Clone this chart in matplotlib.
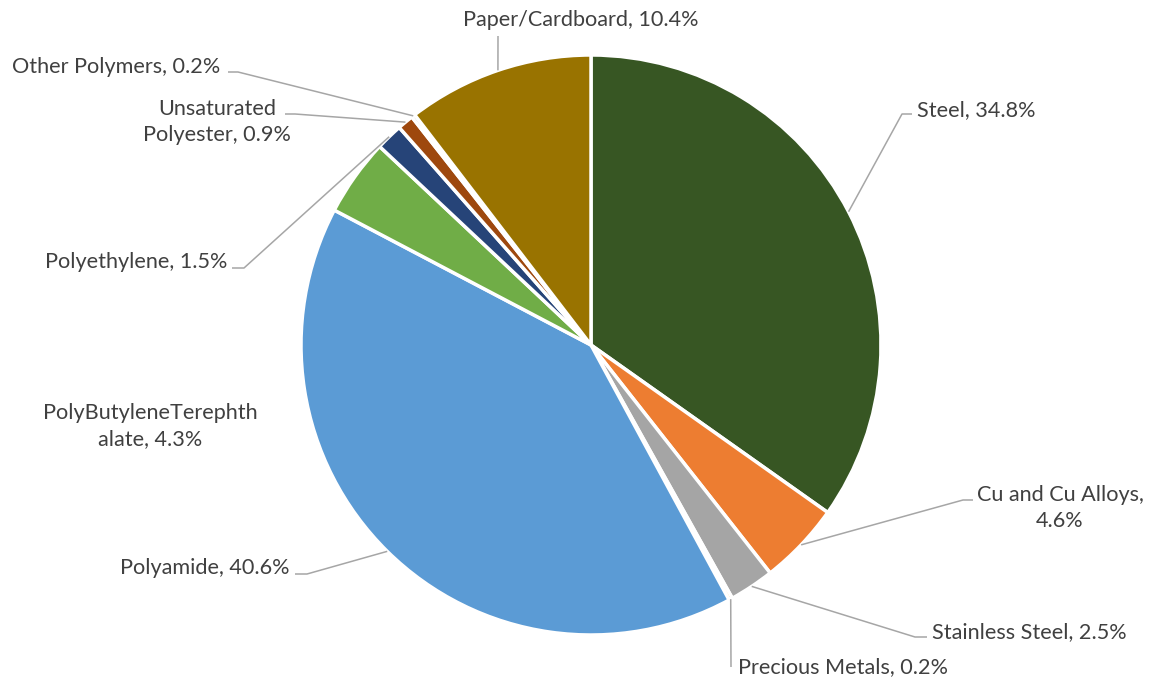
import matplotlib
matplotlib.use("Agg")
import matplotlib.pyplot as plt
import numpy as np

# data (clockwise from 12 o'clock)
materials = ["Steel", "Cu and Cu Alloys", "Stainless Steel", "Precious Metals",
             "Polyamide", "PolyButyleneTerephthalate", "Polyethylene",
             "Unsaturated Polyester", "Other Polymers", "Paper/Cardboard"]
shares = [34.8, 4.6, 2.5, 0.2, 40.6, 4.3, 1.5, 0.9, 0.2, 10.4]
colors = ["#375623", "#ED7D31", "#A5A5A5", "#FFC000", "#5B9BD5",
          "#70AD47", "#264478", "#9E480E", "#636363", "#997300"]

# label text as shown (Excel wraps some of them)
label_texts = ["Steel, 34.8%", "Cu and Cu Alloys,\n4.6%", "Stainless Steel, 2.5%",
               "Precious Metals, 0.2%", "Polyamide, 40.6%",
               "PolyButyleneTerephth\nalate, 4.3%", "Polyethylene, 1.5%",
               "Unsaturated\nPolyester, 0.9%", "Other Polymers, 0.2%",
               "Paper/Cardboard, 10.4%"]

# text placement (pixel coords), alignment and leader-line elbow
label_pos = [(917, 110), (1060, 508), (932, 632), (738, 667), (290, 568),
             (150, 426), (227, 262), (217, 122), (220, 67), (581, 20)]
label_ha = ["left", "center", "left", "left", "right",
            "center", "right", "center", "right", "center"]
elbows = [[(912, 114), (902, 114)],
          [(973, 500), (963, 500)],
          [(927, 637), (915, 637)],
          [(731, 667)],
          [(295, 574), (307, 574)],
          None,
          [(232, 268), (244, 268)],
          [(285, 114), (295, 114)],
          [(228, 72), (238, 72)],
          [(498, 36)]]

fig = plt.figure(figsize=(11.52, 6.83), dpi=100)
ax = fig.add_axes([0, 0, 1, 1])

cx, cy, r = 591, 345, 290
wedges, _ = ax.pie(shares, colors=colors, startangle=-90, counterclock=True,
                   center=(cx, cy), radius=r, frame=True,
                   wedgeprops=dict(edgecolor="white", linewidth=2.5))
ax.set_xlim(0, 1152)
ax.set_ylim(683, 0)
ax.set_aspect("equal")
ax.axis("off")

for w, txt, pos, ha, elb in zip(wedges, label_texts, label_pos, label_ha, elbows):
    mid = np.deg2rad((w.theta1 + w.theta2) / 2)
    ax_pt = (cx + r * np.cos(mid), cy + r * np.sin(mid))
    if elb is not None:
        pts = list(elb) + [ax_pt]
        xs = [p[0] for p in pts]
        ys = [p[1] for p in pts]
        ax.plot(xs, ys, color="#A6A6A6", lw=1.1, solid_capstyle="butt")
    ax.text(pos[0], pos[1], txt, ha=ha, va="center", fontsize=15.6,
            family="Lato", color="#404040", linespacing=1.35)

fig.savefig("out.png", dpi=100)
